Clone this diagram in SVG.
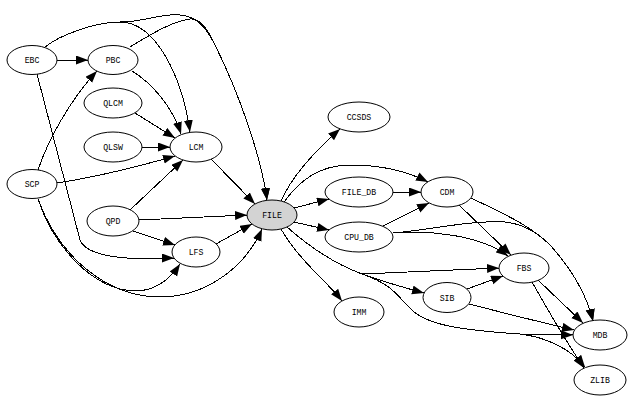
<svg xmlns="http://www.w3.org/2000/svg" width="632" height="398" viewBox="0 0 632 398">
<style>
.n ellipse{fill:#fff;stroke:#000;stroke-width:1}
.n text{font-family:"Liberation Mono","DejaVu Sans Mono",monospace;font-size:8.2px;text-anchor:middle;fill:#000}
#edges path{fill:none;stroke:#000;stroke-width:1;shape-rendering:crispEdges;marker-end:url(#ah)}
</style>
<defs>
<marker id="ah" markerUnits="userSpaceOnUse" markerWidth="13" markerHeight="10" refX="12" refY="4.5" orient="auto">
<path d="M0,0 L12,4.5 L0,9 z" fill="#000"/>
</marker>
</defs>
<rect width="632" height="398" fill="#fff"/>
<g id="edges">
<path d="M57,60 L88,60"/>
<path d="M45,47 C60,35 95,22 120,22 C155,22 182,75 190,132"/>
<path d="M45,47 C60,35 95,22 120,22 C145,22 160,13 180,15 C195,16 205,25 215,45 C240,95 262,160 267,200"/>
<path d="M132,71 C150,82 172,105 181,134"/>
<path d="M130,47 C150,35 170,22 190,19 C200,18 207,28 215,45 C240,95 262,160 267,200"/>
<path d="M135,113 L175,138"/>
<path d="M142,147 L170,147"/>
<path d="M57,183 C90,178 140,166 175,156"/>
<path d="M130,210 L183,160"/>
<path d="M38,170 C48,140 70,100 97,71"/>
<path d="M37,74 L80,240 C84,250 100,256 127,258 L174,258"/>
<path d="M38,199 C55,250 95,290 135,291 C152,291 168,282 180,264"/>
<path d="M38,199 C60,260 110,297 160,297 C205,297 245,268 262,229"/>
<path d="M133,231 L175,245"/>
<path d="M139,220 L247,215"/>
<path d="M216,244 L252,224"/>
<path d="M211,159 L255,204"/>
<path d="M281,201 C288,185 305,160 340,129"/>
<path d="M284,202 C300,180 320,165 350,165 C380,165 405,170 428,182"/>
<path d="M294,208 L329,199"/>
<path d="M393,192 L421,192"/>
<path d="M294,222 L329,230"/>
<path d="M383,226 L429,203"/>
<path d="M459,205 L511,255"/>
<path d="M471,198 C500,212 530,225 550,245 C568,265 586,292 593,321"/>
<path d="M393,233 C430,230 480,235 508,256"/>
<path d="M393,233 C430,230 470,220 505,222 C525,224 540,235 550,245 C568,265 586,292 593,321"/>
<path d="M281,229 C290,245 305,262 318,275 C328,285 335,292 342,301"/>
<path d="M287,227 C305,243 330,262 362,274 L499,268"/>
<path d="M287,227 C305,243 330,262 362,274 C385,282 405,288 424,293"/>
<path d="M287,227 C305,243 330,262 362,274 C395,285 400,300 410,308 C425,325 460,330 520,334 L573,335"/>
<path d="M287,227 C305,243 330,262 362,274 C395,285 400,300 410,308 C425,325 460,330 520,334 C545,337 570,348 585,367"/>
<path d="M467,289 L503,276"/>
<path d="M469,304 C500,312 540,322 574,330"/>
<path d="M538,280 L583,323"/>
<path d="M532,282 C545,305 565,340 584,368"/>
</g>
<g id="EBC" class="n"><ellipse cx="32" cy="60" rx="25" ry="14.5"/><text x="32" y="63">EBC</text></g>
<g id="PBC" class="n"><ellipse cx="113" cy="60" rx="25" ry="14.5"/><text x="113" y="63">PBC</text></g>
<g id="QLCM" class="n"><ellipse cx="113" cy="103" rx="29" ry="15"/><text x="113" y="106">QLCM</text></g>
<g id="QLSW" class="n"><ellipse cx="113" cy="147" rx="29" ry="15"/><text x="113" y="150">QLSW</text></g>
<g id="LCM" class="n"><ellipse cx="196" cy="147" rx="26" ry="15"/><text x="196" y="150">LCM</text></g>
<g id="SCP" class="n"><ellipse cx="32" cy="184" rx="25" ry="14.5"/><text x="32" y="187">SCP</text></g>
<g id="QPD" class="n"><ellipse cx="113" cy="221" rx="26" ry="15"/><text x="113" y="224">QPD</text></g>
<g id="LFS" class="n"><ellipse cx="196" cy="252" rx="24" ry="15"/><text x="196" y="255">LFS</text></g>
<g id="FILE" class="n"><ellipse cx="272" cy="215" rx="25" ry="15" style="fill:#d3d3d3"/><text x="272" y="218">FILE</text></g>
<g id="CCSDS" class="n"><ellipse cx="359" cy="117" rx="31" ry="15"/><text x="359" y="120">CCSDS</text></g>
<g id="FILE_DB" class="n"><ellipse cx="359" cy="192" rx="34" ry="15"/><text x="359" y="195">FILE_DB</text></g>
<g id="CDM" class="n"><ellipse cx="447" cy="192" rx="26" ry="15"/><text x="447" y="195">CDM</text></g>
<g id="CPU_DB" class="n"><ellipse cx="359" cy="237" rx="34" ry="15"/><text x="359" y="240">CPU_DB</text></g>
<g id="FBS" class="n"><ellipse cx="524" cy="268" rx="25" ry="15"/><text x="524" y="271">FBS</text></g>
<g id="SIB" class="n"><ellipse cx="447" cy="297.5" rx="24" ry="15"/><text x="447" y="300.5">SIB</text></g>
<g id="IMM" class="n"><ellipse cx="359" cy="312" rx="25" ry="15"/><text x="359" y="315">IMM</text></g>
<g id="MDB" class="n"><ellipse cx="600" cy="335" rx="27" ry="15"/><text x="600" y="338">MDB</text></g>
<g id="ZLIB" class="n"><ellipse cx="600" cy="380" rx="26" ry="15"/><text x="600" y="383">ZLIB</text></g>
</svg>
